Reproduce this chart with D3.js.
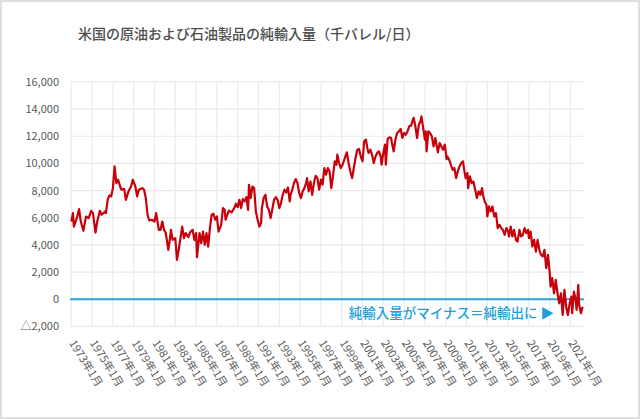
<!DOCTYPE html>
<html><head><meta charset="utf-8">
<script src="https://cdn.jsdelivr.net/npm/d3@7"></script>
<style>
html,body{margin:0;padding:0;background:#fff;}
text{font-family:"Noto Sans CJK JP","Noto Sans",sans-serif;}
</style></head>
<body><svg id="c" width="640" height="419"></svg>
<script>
const title = "米国の原油および石油製品の純輸入量（千バレル/日）";
const note = "純輸入量がマイナス＝純輸出に ▶";
const yTicks = [-2000,0,2000,4000,6000,8000,10000,12000,14000,16000];
const xTickYears = d3.range(1973, 2022, 2);
const months = ["1973-01","1973-03","1973-04","1973-08","1973-10","1973-12","1974-03","1974-06","1974-09","1974-12",
"1975-02","1975-05","1975-07","1975-10","1975-12","1976-04","1976-05","1976-07","1976-09","1976-11",
"1977-01","1977-03","1977-05","1977-07","1977-10","1977-11","1978-02","1978-04","1978-07","1978-10","1978-12",
"1979-03","1979-05","1979-07","1979-11","1980-01","1980-03","1980-05","1980-07","1980-10",
"1981-01","1981-03","1981-06","1981-08","1981-10","1981-12","1982-02","1982-05","1982-07","1982-08","1982-10",
"1983-01","1983-03","1983-05","1983-07","1983-09","1983-11","1984-01","1984-04","1984-06","1984-09","1984-11",
"1985-01","1985-02","1985-05","1985-07","1985-09","1985-11","1986-01","1986-03","1986-05","1986-07","1986-09","1986-11",
"1987-01","1987-03","1987-06","1987-08","1987-10","1987-11","1988-01","1988-03","1988-06","1988-09","1988-11",
"1989-01","1989-03","1989-05","1989-07","1989-09","1989-11","1990-01","1990-02","1990-04","1990-06","1990-08","1990-10","1990-12",
"1991-02","1991-04","1991-05","1991-07","1991-09","1991-11","1992-01","1992-03","1992-05","1992-07","1992-09","1992-11",
"1993-01","1993-03","1993-05","1993-07","1993-09","1993-11","1994-01","1994-02","1994-04","1994-06","1994-08","1994-10","1994-12",
"1995-02","1995-04","1995-06","1995-08","1995-09","1995-11","1996-01","1996-03","1996-05","1996-07","1996-09","1996-11",
"1997-01","1997-03","1997-05","1997-07","1997-09","1997-11","1998-01","1998-03","1998-05","1998-07","1998-08","1998-10","1998-12",
"1999-02","1999-04","1999-06","1999-07","1999-09","1999-11","2000-01","2000-03","2000-05","2000-07","2000-09","2000-11",
"2001-01","2001-03","2001-05","2001-07","2001-08","2001-10","2001-12","2002-02","2002-04","2002-06","2002-08","2002-10","2002-11",
"2003-01","2003-03","2003-04","2003-06","2003-08","2003-10","2003-11","2004-01","2004-03","2004-05","2004-07","2004-09","2004-11",
"2005-01","2005-03","2005-05","2005-07","2005-09","2005-10","2005-12","2006-02","2006-04","2006-06","2006-08","2006-09","2006-11",
"2007-01","2007-02","2007-03","2007-05","2007-07","2007-09","2007-11","2008-01","2008-02","2008-04","2008-06","2008-08","2008-10","2008-12",
"2009-02","2009-03","2009-05","2009-07","2009-09","2009-11","2010-01","2010-03","2010-05","2010-07","2010-09","2010-10","2010-12",
"2011-02","2011-03","2011-05","2011-07","2011-09","2011-11","2012-01","2012-03","2012-05","2012-07","2012-08","2012-10","2012-12",
"2013-01","2013-03","2013-05","2013-07","2013-09","2013-11","2014-01","2014-03","2014-05","2014-07","2014-09","2014-11",
"2015-01","2015-02","2015-04","2015-06","2015-08","2015-10","2015-12","2016-02","2016-04","2016-06","2016-08","2016-10","2016-12",
"2017-01","2017-03","2017-05","2017-07","2017-09","2017-11","2018-01","2018-03","2018-05","2018-07","2018-09","2018-11",
"2019-01","2019-02","2019-04","2019-06","2019-08","2019-10","2019-12","2020-02","2020-04","2020-06","2020-08","2020-10","2020-12",
"2021-02","2021-03","2021-05","2021-07","2021-08","2021-10","2021-11","2022-01","2022-03"];
const netImports = [5720,6340,5350,6090,6640,5720,5040,6090,5970,6510,
6340,4910,5720,6510,6220,6460,6340,7320,7640,7570,
8180,9780,8550,8800,8180,8060,8130,7320,7940,8300,8800,
8300,7570,8060,8180,8060,7450,6220,5800,5850,
5720,6340,5110,5110,5720,5110,4870,3640,4500,5110,4370,
4500,2900,3640,4500,5350,4500,4870,4570,4910,5110,4370,
4870,3100,4870,4130,4980,4000,4870,3880,5240,6220,6290,5850,
6090,4980,5480,6710,6580,5850,6220,6530,6390,6710,7030,
6780,7320,6710,7370,7200,7520,6580,8430,7450,8300,8180,6460,5850,
5350,5600,6710,7450,7690,6830,6580,5970,6640,7320,7520,7320,
6710,7080,7690,8060,7860,8230,7200,7690,8060,8550,8850,8550,7820,
7450,7940,8180,8550,8920,7940,8670,7690,8550,9090,8920,8060,
8800,8430,9660,9170,9660,9410,8180,9040,10150,9900,10640,10030,9660,
9900,10270,10640,10810,10030,9410,8920,9660,10400,11010,11060,10510,
10150,11620,11750,11010,10770,11010,10640,10030,10510,10770,10880,10510,9900,
10770,11380,9900,11800,11920,11870,11500,10880,11750,12240,12360,12530,11870,
12240,12110,12360,12730,12780,12980,13350,12730,11870,12850,13100,13460,12610,
11750,12360,10880,12360,12240,11990,11250,11870,11500,10810,11500,11250,11010,11380,
10320,10510,10270,9900,9530,9660,8920,9410,9780,10030,10150,9660,8920,
9290,8180,9040,8550,8670,8060,7450,7940,7690,8180,7690,7200,6950,
6090,6830,6460,6830,6090,6340,5240,5480,5240,5110,4740,5240,
4980,4620,5350,4620,5110,4370,4250,5110,4620,4740,5240,4870,5110,
4500,4980,3880,4370,3510,4370,3640,3270,3140,3640,2290,3270,
1920,930,1550,440,1420,440,-300,440,-1160,690,-550,-1160,-300,
190,-1030,560,-50,-790,1050,-420,-1030,-550];

const W = 640, H = 419;
const svg = d3.select("#c");
const parse = d3.timeParse("%Y-%m");
const data = months.map((m,i)=>({date:parse(m), value:netImports[i]}));

const x = d3.scaleTime().domain([parse("1973-01"), parse("2022-03")]).range([71.3, 582.6]);
const y = d3.scaleLinear().domain([-2000, 16000]).range([326.4, 81.9]);
const plotRight = 584;

svg.append("rect").attr("x",1).attr("y",1).attr("width",W-2).attr("height",H-2)
  .attr("fill","#fff").attr("stroke","#dedede").attr("stroke-width",2);

// horizontal gridlines
svg.append("g").selectAll("line").data(yTicks.filter(d=>d!==0)).join("line")
  .attr("x1",70.5).attr("x2",plotRight).attr("y1",d=>y(d)).attr("y2",d=>y(d))
  .attr("stroke","#e9e9e9").attr("stroke-width",1.2);
// vertical gridlines
const xTicks = xTickYears.map(yr=>new Date(yr,0,1));
svg.append("g").selectAll("line").data(xTicks).join("line")
  .attr("x1",d=>x(d)).attr("x2",d=>x(d)).attr("y1",y(16000)).attr("y2",y(-2000))
  .attr("stroke","#ececec").attr("stroke-width",1.2);

// y axis labels
const yAxis = d3.axisLeft(y).tickValues(yTicks).tickSize(0).tickPadding(0)
  .tickFormat(d => d < 0 ? "△" + d3.format(",")(-d) : d3.format(",")(d));
const gy = svg.append("g").attr("transform","translate(59,0)").call(yAxis);
gy.select(".domain").remove();
gy.selectAll("text").attr("font-size",11).attr("fill","#595959")
  .style("font-family",'"Noto Sans CJK JP",sans-serif');

// x axis labels
const xAxis = d3.axisBottom(x).tickValues(xTicks).tickSize(0).tickPadding(0)
  .tickFormat(d => d.getFullYear() + "年1月");
const gx = svg.append("g").call(xAxis);
gx.select(".domain").remove();
gx.selectAll("text").attr("x",0).attr("y",0).attr("dy",null)
  .attr("text-anchor","start")
  .attr("transform","translate(-3,343) rotate(58)")
  .attr("font-size",11).attr("fill","#595959")
  .style("font-family",'"Noto Sans CJK JP",sans-serif');

// zero line
svg.append("line").attr("x1",70).attr("x2",plotRight).attr("y1",y(0)).attr("y2",y(0))
  .attr("stroke","#2aa3da").attr("stroke-width",2);

// data line
const line = d3.line().x(d=>x(d.date)).y(d=>y(d.value));
svg.append("path").datum(data).attr("d",line).attr("fill","none")
  .attr("stroke","#c8000a").attr("stroke-width",2.2).attr("stroke-linejoin","round");

// annotation
svg.append("text").attr("x",554).attr("y",317.8).attr("text-anchor","end")
  .attr("font-size",13.5).attr("font-weight",500).attr("fill","#1e9fd8").text(note);

// title
svg.append("text").attr("x",78).attr("y",38.5).attr("font-size",14)
  .attr("font-weight",500).attr("fill","#4d4d4d").text(title);
</script></body></html>
